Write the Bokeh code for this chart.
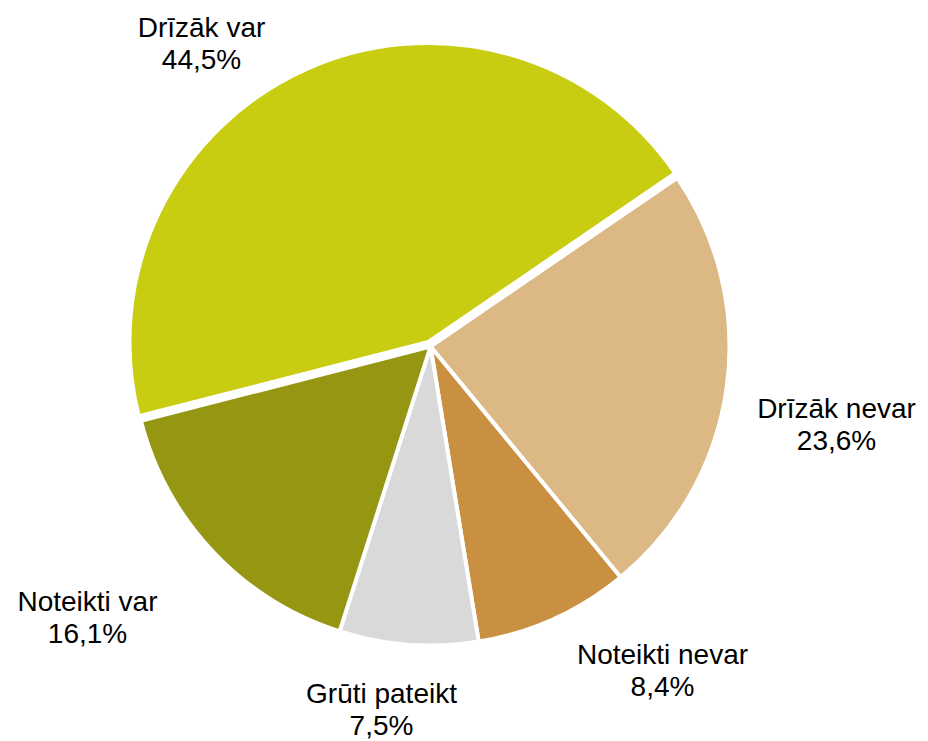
import math
from bokeh.plotting import figure
from bokeh.models import Range1d, ColumnDataSource
from bokeh.core.properties import value
from bokeh.embed import file_html
from bokeh.resources import INLINE

# Data (clockwise order)
categories = ["Drīzāk var", "Drīzāk nevar", "Noteikti nevar", "Grūti pateikt", "Noteikti var"]
shares = [44.5, 23.6, 8.4, 7.5, 16.1]
pct_labels = ["44,5%", "23,6%", "8,4%", "7,5%", "16,1%"]
colors = ["#C9CD12", "#DBB884", "#C89040", "#D9D9D9", "#959712"]
explode = [5, 0, 0, 0, 0]

# label anchor positions (center x, baseline y of name line, in picture pixels)
label_x = [201, 836, 662, 381, 87]
label_y = [27, 408, 654, 693, 601]
line_gap = 32

W, H = 928, 741
p = figure(width=W, height=H, output_backend="svg", toolbar_location=None,
           x_range=Range1d(0, W), y_range=Range1d(-H, 0),
           min_border=0, outline_line_color=None)
p.axis.visible = False
p.grid.visible = False
p.background_fill_color = "white"
p.border_fill_color = "white"

cx, cy, R = 430, -346, 299
start0 = 194.4
total = sum(shares)
starts, ends, xs, ys = [], [], [], []
cum = 0.0
for v, e in zip(shares, explode):
    s = start0 - cum / total * 360.0
    en = s - v / total * 360.0
    mid = math.radians((s + en) / 2)
    starts.append(s)
    ends.append(en)
    xs.append(cx + e * math.cos(mid))
    ys.append(cy + e * math.sin(mid))
    cum += v

src = ColumnDataSource(dict(x=xs, y=ys, start=starts, end=ends, color=colors))
p.wedge(x="x", y="y", radius=R, start_angle="start", end_angle="end",
        start_angle_units="deg", end_angle_units="deg", direction="clock",
        fill_color="color", line_color="white", line_width=4, source=src)

lsrc = ColumnDataSource(dict(x=label_x, y=[-v for v in label_y],
                             y2=[-(v + line_gap) for v in label_y],
                             name=categories, pct=pct_labels))
p.text(x="x", y="y", text="name", source=lsrc, text_align="center",
       text_baseline="alphabetic", text_font=value("Liberation Sans"),
       text_font_size="28px", text_color="black")
p.text(x="x", y="y2", text="pct", source=lsrc, text_align="center",
       text_baseline="alphabetic", text_font=value("Liberation Sans"),
       text_font_size="28px", text_color="black")

open("out.html", "w").write(file_html(p, INLINE))
